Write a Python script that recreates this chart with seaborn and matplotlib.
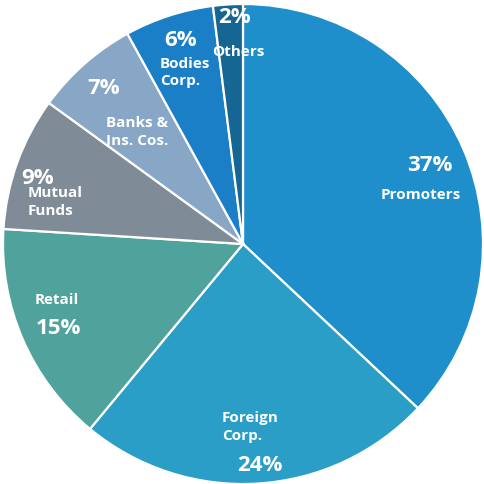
import matplotlib
matplotlib.use("Agg")
import matplotlib.pyplot as plt
import seaborn as sns

# --- DATA ---
categories = ["Promoters", "Foreign\nCorp.", "Retail", "Mutual\nFunds",
              "Banks &\nIns. Cos.", "Bodies\nCorp.", "Others"]
shares = [37, 24, 15, 9, 7, 6, 2]
pct_labels = ["37%", "24%", "15%", "9%", "7%", "6%", "2%"]

colors = ["#1f8fcc", "#2a9ec7", "#4fa39c", "#7f8c97", "#88a7c6", "#1b7fc7", "#156693"]

# label placement (data units, pie radius = 1): (pct_xy, name_xy, name_align)
label_pos = [
    ((0.78, 0.33), (0.74, 0.21), "center"),
    ((0.07, -0.917), (-0.0875, -0.758), "left"),
    ((-0.77, -0.346), (-0.775, -0.229), "center"),
    ((-0.855, 0.279), (-0.896, 0.179), "left"),
    ((-0.58, 0.654), (-0.571, 0.471), "left"),
    ((-0.262, 0.854), (-0.346, 0.72), "left"),
    ((-0.037, 0.946), (-0.02, 0.804), "center"),
]

sns.set_theme(style="white")
plt.rcParams['font.family'] = ['Open Sans', 'DejaVu Sans']

fig = plt.figure(figsize=(4.84, 4.85), dpi=100)
ax = fig.add_axes([0, 0, 1, 1])

ax.pie(shares, colors=colors, startangle=90, counterclock=False, radius=1.0,
       wedgeprops=dict(edgecolor="white", linewidth=1.6))

for (pxy, nxy, ha), name, pct in zip(label_pos, categories, pct_labels):
    ax.text(pxy[0], pxy[1], pct, color="white", fontsize=16, fontweight="bold",
            ha="center", va="center")
    ax.text(nxy[0], nxy[1], name, color="white", fontsize=11, fontweight="bold",
            ha=ha, va="center", linespacing=1.3)

ax.set_xlim(-243 / 240, 241 / 240)
ax.set_ylim(-1.0, 245 / 240)
ax.set_aspect("auto")
ax.axis("off")

fig.savefig("out.png", dpi=100, facecolor="white")
